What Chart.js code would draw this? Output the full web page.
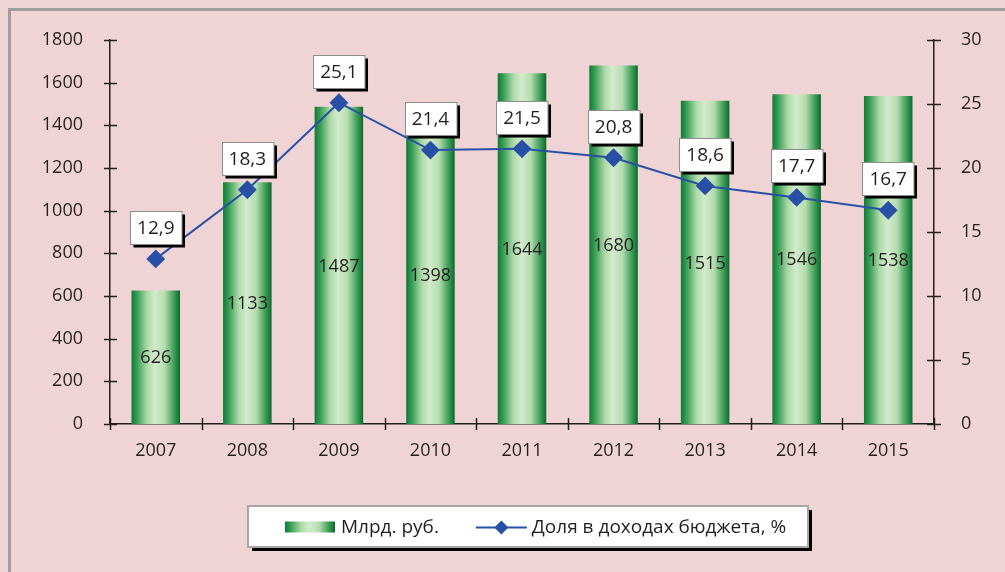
<!DOCTYPE html>
<html>
<head>
<meta charset="utf-8">
<script src="https://cdn.jsdelivr.net/npm/chart.js@4"></script>
<style>
  html, body { margin: 0; padding: 0; background: #f0d4d5; }
  #wrap { position: relative; width: 1005px; height: 572px; }
</style>
</head>
<body>
<div id="wrap"><canvas id="revenueChart" width="1005" height="572"></canvas></div>
<script>
// categories (years)
const years = ["2007", "2008", "2009", "2010", "2011", "2012", "2013", "2014", "2015"];

// bars: amount, bn rub
const amounts = [626, 1133, 1487, 1398, 1644, 1680, 1515, 1546, 1538];

// line: share in budget revenue, %
const shares = [12.9, 18.3, 25.1, 21.4, 21.5, 20.8, 18.6, 17.7, 16.7];

const seriesNames = ["Млрд. руб.", "Доля в доходах бюджета, %"];

const FONT = "'Open Sans', 'Noto Sans', sans-serif";
const TEXT = "#231f20";
const LINE = "#2850a6";
const BAR_PCT = 0.53;

// green "cylinder" gradient across a bar
function barGradient (c, x0, x1) {
    const g = c.createLinearGradient(x0, 0, x1, 0);
    g.addColorStop(0, "#0d7a35");
    g.addColorStop(0.12, "#3b9f57");
    g.addColorStop(0.32, "#acd9a6");
    g.addColorStop(0.48, "#d2ebcc");
    g.addColorStop(0.68, "#b5dcae");
    g.addColorStop(0.88, "#3a9c55");
    g.addColorStop(1, "#0a6a2d");
    return g; }

function barFill (ctx) {
    const chart = ctx.chart, x = chart.scales.x;
    if (!x || ctx.type !== "data") { return "#3a9c55"; }
    const cx = x.getPixelForValue(ctx.dataIndex);
    const w = x.width / years.length * BAR_PCT;
    if (!isFinite(cx) || !isFinite(w) || w <= 0) { return "#3a9c55"; }
    return barGradient(chart.ctx, cx - w / 2, cx + w / 2); }

/* --------------------------------------------- plugins ------------------------------------------------------- */

const decor = {
    id: "decor",
    beforeDraw (chart) {
        const c = chart.ctx;
        c.save();
        c.strokeStyle = "#9e9e9e"; c.lineWidth = 3;
        c.beginPath(); c.moveTo(9.5, 572); c.lineTo(9.5, 9.5); c.lineTo(1005, 9.5); c.stroke();
        c.restore(); },

    afterDatasetsDraw (chart) {
        const c = chart.ctx;
        c.save();
        c.font = "18px " + FONT; c.fillStyle = TEXT;
        c.textAlign = "center"; c.textBaseline = "middle";
        // values inside bars
        chart.getDatasetMeta(1).data.forEach((el, i) => {
            c.fillText(String(amounts[i]), el.x, (el.y + el.base) / 2 + 1); });
        // boxed labels above line points
        c.font = "19px " + FONT;
        chart.getDatasetMeta(0).data.forEach((el, i) => {
            const txt = shares[i].toFixed(1).replace(".", ",");
            const w = c.measureText(txt).width + 14, h = 33;
            const bx = Math.round(el.x - w / 2) + 0.5, by = Math.round(el.y - 15 - h) + 0.5;
            c.fillStyle = "#000"; c.fillRect(bx + 3, by + 3, w, h);
            c.fillStyle = "#fff"; c.fillRect(bx, by, w, h);
            c.strokeStyle = "#8c8c8c"; c.lineWidth = 1; c.strokeRect(bx, by, w, h);
            c.fillStyle = TEXT; c.fillText(txt, el.x, by + h / 2 + 1); });
        c.restore(); },

    afterDraw (chart) {
        const c = chart.ctx, x = chart.scales.x, y = chart.scales.y, y1 = chart.scales.y1;
        c.save();
        c.strokeStyle = TEXT; c.lineWidth = 1.5;
        c.beginPath();
        y.ticks.forEach(t => { const p = Math.round(y.getPixelForValue(t.value)) + 0.5;
            c.moveTo(x.left - 6, p); c.lineTo(x.left + 7, p); });
        y1.ticks.forEach(t => { const p = Math.round(y1.getPixelForValue(t.value)) + 0.5;
            c.moveTo(x.right - 7, p); c.lineTo(x.right + 7, p); });
        for (let i = 0; i <= years.length; i++) {
            const p = Math.round(x.left + i * x.width / years.length) + 0.5;
            c.moveTo(p, y.bottom - 6); c.lineTo(p, y.bottom + 6); }
        c.stroke();

        // legend box
        const lx = 248, ly = 506, lw = 560, lh = 41, my = ly + lh / 2 + 1;
        c.fillStyle = "#000"; c.fillRect(lx + 4, ly + 4, lw, lh);
        c.fillStyle = "#fff"; c.fillRect(lx, ly, lw, lh);
        c.strokeStyle = "#a6a6a6"; c.lineWidth = 2; c.strokeRect(lx, ly, lw, lh);
        c.font = "19px " + FONT; c.textBaseline = "middle"; c.textAlign = "left";
        const w0 = c.measureText(seriesNames[0]).width;
        let px = lx + 37;
        c.fillStyle = barGradient(c, px, px + 50); c.fillRect(px, my - 6, 50, 11);
        px += 56; c.fillStyle = TEXT; c.fillText(seriesNames[0], px, my);
        px += w0 + 37;
        c.strokeStyle = LINE; c.lineWidth = 2;
        c.beginPath(); c.moveTo(px, my); c.lineTo(px + 51, my); c.stroke();
        c.fillStyle = LINE; c.beginPath();
        c.moveTo(px + 25.5, my - 7); c.lineTo(px + 32.5, my); c.lineTo(px + 25.5, my + 7); c.lineTo(px + 18.5, my);
        c.closePath(); c.fill();
        px += 56; c.fillStyle = TEXT; c.fillText(seriesNames[1], px, my);
        c.restore(); }
};

/* --------------------------------------------- chart ------------------------------------------------------- */

const tickFont = { family: FONT, size: 18 };

const revenueChart = new Chart("revenueChart", {
    data: {
        labels: years,
        datasets: [{
            type: "line",
            label: seriesNames[1],
            data: shares,
            yAxisID: "y1",
            borderColor: LINE,
            borderWidth: 2,
            pointStyle: "rectRot",
            pointRadius: 8,
            pointBackgroundColor: LINE,
            pointBorderColor: LINE,
            tension: 0,
            order: 0
        }, {
            type: "bar",
            label: seriesNames[0],
            data: amounts,
            yAxisID: "y",
            backgroundColor: barFill,
            barPercentage: BAR_PCT,
            categoryPercentage: 1,
            order: 1
        }]
    },
    options: {
        responsive: false,
        animation: false,
        layout: { padding: { top: 40, left: 0, right: 0, bottom: 0 } },
        plugins: { legend: { display: false }, tooltip: { enabled: false } },
        scales: {
            x: {
                grid: { display: false },
                border: { display: true, color: TEXT, width: 1.5 },
                ticks: { color: TEXT, font: tickFont, padding: 8 },
                afterFit (s) { s.height = 148; }
            },
            y: {
                position: "left", min: 0, max: 1800,
                grid: { display: false },
                border: { display: true, color: TEXT, width: 1.5 },
                ticks: { stepSize: 200, color: TEXT, font: tickFont, padding: 19,
                         callback: v => String(v) },
                afterFit (s) { s.width = 110; }
            },
            y1: {
                position: "right", min: 0, max: 30,
                grid: { display: false },
                border: { display: true, color: TEXT, width: 1.5 },
                ticks: { stepSize: 5, color: TEXT, font: tickFont, padding: 19,
                         callback: v => String(v) },
                afterFit (s) { s.width = 71; }
            }
        }
    },
    plugins: [decor]
});
</script>
</body>
</html>
